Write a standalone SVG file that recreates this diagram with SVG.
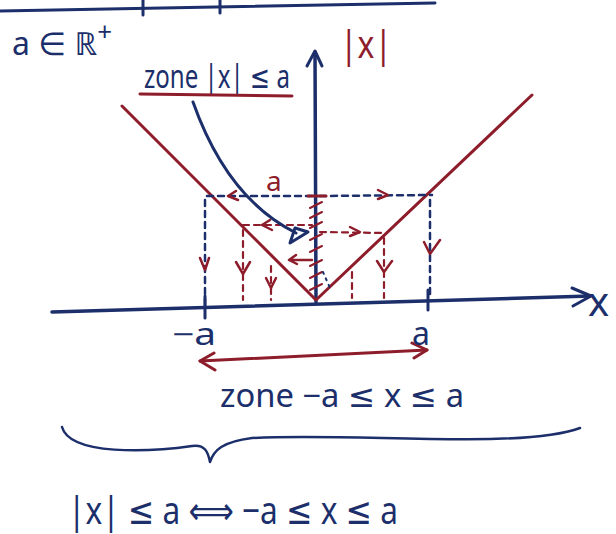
<svg xmlns="http://www.w3.org/2000/svg" width="616" height="534" viewBox="0 0 616 534">
<style>
.b{stroke:#1c2f6b;fill:none;stroke-linecap:round;stroke-linejoin:round}
.r{stroke:#8e1d2c;fill:none;stroke-linecap:round;stroke-linejoin:round}
.tb{fill:#1c2f6b;font-family:"Noto Sans","DejaVu Sans",sans-serif}
.tr{fill:#8e1d2c;font-family:"Noto Sans","DejaVu Sans",sans-serif}
.dashb{stroke-dasharray:6 5}
.dashr{stroke-dasharray:6 5}
</style>
<rect width="616" height="534" fill="#ffffff"/>

<g id="top-frame">
<path class="b" stroke-width="3" d="M0,11 L435,3"/>
<path class="b" stroke-width="3" d="M143,0 L143,15 M220,0 L220,13"/>
</g>

<g id="label-aR">
<text class="tb" x="12" y="55" font-size="32">a ∈ ℝ<tspan dy="-14" font-size="26">+</tspan></text>
</g>

<g id="label-zone-abs">
<text class="tb" x="144" y="88" font-size="32" textLength="146" lengthAdjust="spacingAndGlyphs">zone |x| ≤ a</text>
<path class="r" stroke-width="3" d="M140,94 L292,96"/>
</g>

<g id="label-absx">
<text class="tr" x="340" y="58" font-size="38" textLength="52" lengthAdjust="spacingAndGlyphs">|x|</text>
</g>

<g id="axes">
<path class="b" stroke-width="3.5" d="M52,312 L590,296"/>
<path class="b" stroke-width="3" d="M572,288 L591,296 L573,306"/>
<path class="b" stroke-width="3.5" d="M316,302 L315,52"/>
<path class="b" stroke-width="3" d="M307,66 L315,51 L322,66"/>
<path class="b" stroke-width="3" d="M205,296 L205,318 M428,290 L428,310"/>
<text class="tb" x="588" y="316" font-size="40">x</text>
</g>

<g id="curve-abs">
<path class="r" stroke-width="3" d="M122,106 L316,300 L532,95"/>
</g>

<g id="connectors">
<path class="b dashb" stroke-width="2.5" d="M207,196 L316,196 M320,196 L432,195"/>
<path class="r" stroke-width="3" d="M308,196 L326,196"/>
<path class="r" stroke-width="2.5" d="M236,191 L228,196 L238,200 M378,190 L388,195 L378,199"/>
<text class="tr" x="266" y="191" font-size="28">a</text>
<path class="b dashb" stroke-width="2.5" d="M205,200 L205,310 M430,200 L430,298"/>
<path class="r" stroke-width="2.5" d="M200,258 L205,270 L209,258 M424,242 L430,254 L440,240"/>
<path class="r" stroke-width="2" d="M310,208 L322,202 M310,218 L322,212 M310,228 L322,222 M310,240 L322,234 M310,252 L322,246 M310,266 L322,260 M310,278 L322,272 M310,290 L322,284"/>
<path class="r dashr" stroke-width="2.2" d="M243,225 L312,225 M320,232 L384,233"/>
<path class="r" stroke-width="2.5" d="M270,220 L262,225 L272,230 M350,227 L360,232 L350,236"/>
<path class="r dashr" stroke-width="2.2" d="M243,230 L243,300 M384,238 L384,298"/>
<path class="r" stroke-width="2.5" d="M236,262 L243,274 L250,262 M377,261 L384,272 L392,261"/>
<path class="r" stroke-width="2.5" d="M290,260 L312,260 M296,255 L289,260 L297,264"/>
<path class="r dashr" stroke-width="2.2" d="M271,266 L271,300 M352,272 L352,298"/>
<path class="r" stroke-width="2.5" d="M266,278 L271,288 L276,278"/>
<path class="b" stroke-width="2" stroke-dasharray="2 5" d="M323,272 L330,288"/>
<path class="b" stroke-width="3" d="M193,102 C210,150 240,205 296,233"/>
<path class="b" stroke-width="3" d="M295,228 L308,232 L290,243 Z"/>
<path class="r" stroke-width="3" d="M200,361 L427,350"/>
<path class="r" stroke-width="3" d="M214,353 L200,361 L215,370 M412,343 L427,350 L414,358"/>
<path class="b" stroke-width="2.5" d="M62,427 C70,456 150,452 192,446 C205,444 208,452 210,462 C214,450 222,442 252,438 C350,432 520,450 580,428"/>
</g>

<g id="tick-labels">
<text class="tb" x="172" y="345" font-size="30" textLength="44" lengthAdjust="spacingAndGlyphs">−a</text>
<text class="tb" x="412" y="345" font-size="32">a</text>
</g>

<g id="label-zone-interval">
<text class="tb" x="220" y="407" font-size="32" textLength="244" lengthAdjust="spacingAndGlyphs">zone −a ≤ x ≤ a</text>
</g>

<g id="equivalence">
<text class="tb" x="68" y="524" font-size="38" textLength="330" lengthAdjust="spacingAndGlyphs">|x| ≤ a ⟺ −a ≤ x ≤ a</text>
</g>
</svg>
